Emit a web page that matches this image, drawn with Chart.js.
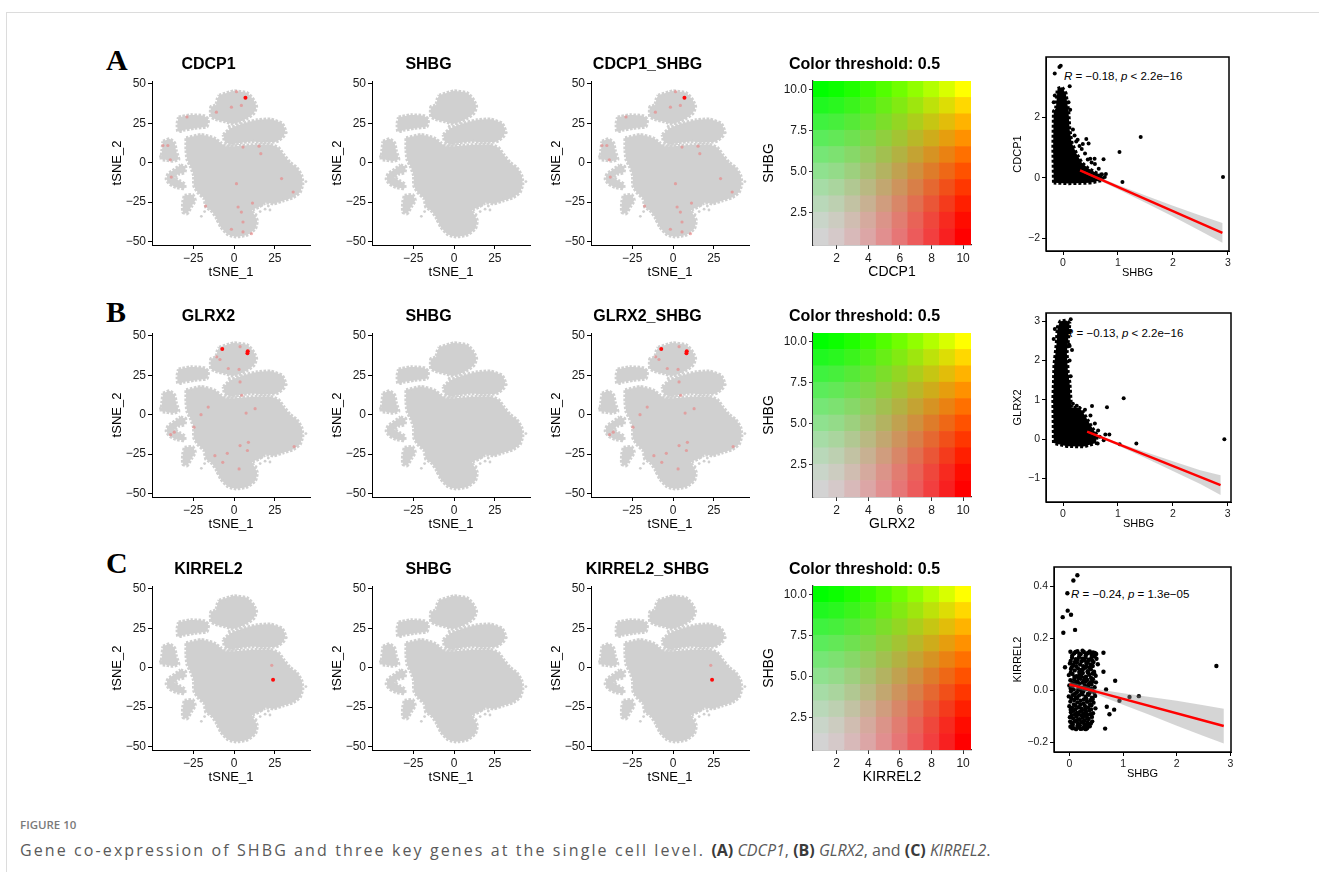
<!DOCTYPE html>
<html>
<head>
<meta charset="utf-8">
<script src="https://cdn.jsdelivr.net/npm/chart.js@4.4.1/dist/chart.umd.min.js"></script>
<style>
  body { margin: 0; background: #fff; width: 1319px; height: 872px; position: relative; overflow: hidden; }
  canvas { position: absolute; }
  .frame { position: absolute; left: 6px; top: 12px; right: -5px; bottom: -5px; border-top: 1px solid #dcdcdc; border-left: 1px solid #dcdcdc; }
  .tag { position: absolute; font: bold 30px "Liberation Serif", serif; line-height: 30px; color: #000; }
  .note { position: absolute; font: 11.5px "Liberation Sans", Arial, sans-serif; line-height: 14px; color: #000; white-space: nowrap; }
  .fig { position: absolute; left: 20px; top: 817px; font: 600 11.5px "Open Sans", sans-serif; line-height: 16px; color: #7a7a7a; }
  .cap { position: absolute; left: 20px; top: 840px; font: 16px "Open Sans", sans-serif; line-height: 20px; color: #5a5a5a; white-space: nowrap; }
  .cap .reg { letter-spacing: 2.1px; }
  .cap b { color: #3a3a3a; }
</style>
</head>
<body>
<div class="frame"></div>
<div class="tag" style="left:106px;top:45px">A</div>
<div class="tag" style="left:106px;top:297px">B</div>
<div class="tag" style="left:106px;top:548px">C</div>
<div class="note" style="left:1064px;top:69px"><i>R</i> = −0.18, <i>p</i> &lt; 2.2e−16</div>
<div class="note" style="left:1065px;top:326px"><i>R</i> = −0.13, <i>p</i> &lt; 2.2e−16</div>
<div class="note" style="left:1071px;top:587px"><i>R</i> = −0.24, <i>p</i> = 1.3e−05</div>
<div class="fig">FIGURE 10</div>
<div class="cap"><span class="reg">Gene co-expression of SHBG and three key genes at the single cell level. </span><b>(A)</b> <i>CDCP1</i>, <b>(B)</b> <i>GLRX2</i>, and <b>(C)</b> <i>KIRREL2</i>.</div>

<script>
// ---- tSNE embedding: outlines of the cell clouds (same cells in every panel)
const clTop = [[-9.1,42.7],[0,45.4],[8.1,44.2],[12.1,39.6],[13.7,35.4],[12.1,31.3],[8.1,28.1],[4,26],[-1,24.6],[-5.1,26],[-10.1,27.1],[-14.1,29.2],[-14.1,35.4],[-11.1,36.5],[-10.1,40.6]];
const clUpLeft = [[-33.9,28.8],[-26.3,30.2],[-18.2,29.6],[-15.8,27.1],[-16.6,22.9],[-24.2,21.9],[-30.3,20.8],[-34.3,19.8],[-34.7,25]];
const clUpRight = [[-6.5,17.7],[-2,21.9],[6.1,25],[14.1,27.1],[22.2,27.5],[29.3,25],[31.3,20.8],[30.3,16.7],[26.3,13.5],[18.2,12.9],[10.1,13.5],[3,12.5],[-2,11.5],[-5.7,13.5]];
const clLeft = [[-43.4,13.5],[-39.4,15],[-36.4,12.5],[-35.4,7.3],[-33.9,2.1],[-37.4,1],[-41.4,1.7],[-44.4,2.1],[-44,8.3]];
const clHook = [[-32.7,-1.5],[-29.7,-2.5],[-30.3,-6.3],[-34.3,-7.3],[-36.4,-9.4],[-33.3,-11.5],[-30.3,-13.5],[-30.3,-16.3],[-35.4,-15.6],[-39.4,-13.5],[-41.4,-10.4],[-40.4,-7.3],[-36.4,-4.2]];
const clLowLeft = [[-30.3,-20.8],[-25.3,-20.4],[-23.8,-24],[-26.3,-28.1],[-28.7,-32.3],[-31.3,-31.3],[-31.3,-25]];
const clMain = [[-29.3,15.6],[-20.2,17.7],[-12.1,15.6],[-8.1,12.5],[-5.1,10.4],[4,10.8],[16.2,11.5],[22.2,11.5],[27.3,9.4],[30.3,5.2],[34.3,0],[38.4,-3.1],[41.4,-8.3],[42,-13.5],[40.4,-18.8],[36.4,-21.9],[30.3,-24],[24.2,-26],[19.2,-25.4],[15.2,-28.1],[11.1,-30.2],[14.1,-36.5],[13.1,-41.7],[8.1,-45.8],[1,-46.9],[-4,-45.4],[-8.1,-40.6],[-11.1,-34.4],[-14.1,-30.2],[-17.2,-28.1],[-18.2,-22.9],[-22.2,-18.8],[-24.6,-14.6],[-24.6,-8.3],[-26.3,-3.1],[-28.7,2.1],[-29.3,8.3]];
const clusters = [clMain, clTop, clUpLeft, clUpRight, clLeft, clHook, clLowLeft];
// loose cells outside the outlines
const strayCells = [[17,-27],[19,-29.5],[21,-27.5],[16,-31],[22,-30],[13.5,-33],[-18,-31],[-20,-34],[-10,-37],[44,-12],[-3,23],[32,19],[-45,4],[-16,26]];

// expressing cells (bright = high, faint = low)
const cdcp1Hi = [[7.0,41.1]];
const cdcp1Lo = [[1.5,45.0],[-1.6,35.2],[4.5,36.3],[-10.8,32.0],[-28.8,29.0],[-43.5,10.9],[-40.5,10.9],[-39.0,1.8],[-38.4,-9.1],[5.5,9.9],[15.3,10.5],[16.4,5.7],[29.1,-10.1],[36.2,-18.6],[2.5,-28.1],[4.5,-31.3],[11.3,-25.6],[-1.6,-42.2],[5.5,-43.9],[10.7,-45.0],[-17.4,-27.5],[5.5,-37.6],[1.5,-13.3]];
const glrx2Hi = [[-7.2,41.6],[8.4,40.3],[8.2,38.9]];
const glrx2Lo = [[3.7,43.1],[-10.6,36.7],[-8.6,35.0],[3.1,28.7],[-3.5,29.3],[3.7,20.8],[4.7,12.3],[-15.8,4.8],[-20.2,0],[-24.5,-7.9],[-36.6,-11.1],[-38.8,-12.7],[7.4,1.0],[12.9,3.8],[8.8,-17.5],[3.7,-19.6],[8.2,-22.7],[-4.1,-24.5],[-11.7,-26.0],[-6.9,-30.2],[3.1,-34.4],[36.8,-20.2]];
const kirrel2Hi = [[23.9,-7.6]];
const kirrel2Lo = [[23.1,1.5]];

const tsneXTicks = [-25, 0, 25];
const tsneYTicks = [-50, -25, 0, 25, 50];

// ---- blend legend
const hmLevels = [1, 2, 3, 4, 5, 6, 7, 8, 9, 10];
const hmXTicks = [2, 4, 6, 8, 10];
const hmYTicks = [2.5, 5, 7.5, 10];

// ---- correlation scatter (SHBG on x)
const cdcp1Dense = [[-0.17,-0.17],[-0.18,1.0],[-0.17,2.2],[-0.13,2.3],[-0.1,2.95],[-0.02,3.0],[0.05,2.8],[0.1,2.2],[0.12,1.6],[0.16,1.15],[0.25,0.78],[0.34,0.5],[0.45,0.32],[0.6,0.16],[0.72,0.08],[0.72,-0.08],[0.5,-0.17],[0.1,-0.19]];
const cdcp1Pts = [[-0.151,3.45],[-0.066,3.67],[-0.042,3.71],[0.121,3.03],[0.266,1.26],[0.423,1.28],[0.465,1.13],[0.495,0.63],[0.574,0.63],[0.737,0.61],[0.707,0.11],[1.027,0.85],[1.081,-0.14],[1.413,1.35],[2.911,0.02],
  [-0.17,2.5],[-0.15,2.72],[0.1,2.5],[0.13,2.25],[0.18,1.6],[0.21,1.4],[0.3,1.05],[0.34,0.95],[0.4,0.8],[0.45,0.6],[0.52,0.5],[0.58,0.45],[0.65,0.3],[0.24,1.2],[0.36,1.12],[0.78,0.12],[0.76,0.02]];
const cdcp1Fit = [[0.31,0.24],[2.9,-1.83]];
const cdcp1BandX = [0.31, 1.0, 1.5, 2.0, 2.5, 2.9];
const cdcp1BandUp = [0.27, -0.24, -0.59, -0.93, -1.25, -1.50];
const cdcp1BandLo = [0.21, -0.38, -0.83, -1.29, -1.77, -2.16];

const glrx2Dense = [[-0.17,-0.1],[-0.18,1.0],[-0.16,1.9],[-0.12,2.4],[-0.1,2.85],[-0.05,3.0],[0.06,3.02],[0.12,2.95],[0.1,2.6],[0.07,2.2],[0.09,1.7],[0.12,1.45],[0.15,0.8],[0.3,0.8],[0.36,0.7],[0.45,0.48],[0.55,0.25],[0.62,0.1],[0.6,-0.1],[0.38,-0.19],[0.07,-0.18]];
const glrx2Pts = [[0.528,0.84],[0.801,0.81],[0.844,0.12],[0.771,0.12],[0.668,0.06],[0.741,-0.03],[0.631,-0.11],[1.032,-0.13],[1.105,1.04],[1.336,-0.11],[2.939,0.0],[0.164,2.27],[0.121,2.37],
  [-0.17,2.55],[-0.15,2.8],[0.14,3.05],[0.13,2.75],[0.11,2.4],[0.12,2.0],[0.14,1.6],[0.18,0.9],[0.25,0.85],[0.4,0.75],[0.5,0.6],[0.58,0.4],[0.64,0.22]];
const glrx2Fit = [[0.44,0.19],[2.87,-1.17]];
const glrx2BandX = [0.44, 1.0, 1.5, 2.0, 2.5, 2.87];
const glrx2BandUp = [0.21, -0.09, -0.33, -0.56, -0.79, -0.92];
const glrx2BandLo = [0.17, -0.16, -0.48, -0.81, -1.14, -1.42];

const kirrel2Pts = [
  [0.149,0.442],[0.075,0.422],[-0.037,0.373],[-0.124,0.281],[-0.031,0.306],[0.031,0.290],[-0.112,0.221],[0.106,0.232],[-0.081,0.088],
  [2.738,0.093],[0.853,0.036],[0.684,0.003],[0.697,-0.064],[0.747,-0.093],[0.834,-0.075],[0.666,-0.148],[0.933,-0.041],[1.12,-0.026],[1.294,-0.023],[0.635,0.071],[0.635,0.144],
  [0.02,0.148],[0.09,0.142],[0.15,0.150],[0.21,0.138],[0.27,0.147],[0.33,0.141],[0.38,0.149],[0.44,0.145],[0.50,0.139],
  [0.05,0.125],[0.12,0.119],[0.18,0.128],[0.24,0.121],[0.30,0.126],[0.36,0.117],[0.41,0.124],[0.47,0.130],
  [0.01,0.103],[0.07,0.097],[0.14,0.106],[0.20,0.099],[0.26,0.092],[0.32,0.104],[0.39,0.098],[0.45,0.108],[0.53,0.100],
  [0.03,0.081],[0.10,0.076],[0.16,0.084],[0.22,0.078],[0.29,0.086],[0.34,0.073],[0.40,0.080],[0.46,0.071],
  [-0.01,0.058],[0.06,0.062],[0.13,0.054],[0.19,0.060],[0.25,0.066],[0.31,0.052],[0.37,0.059],[0.43,0.064],[0.49,0.055],
  [0.02,0.038],[0.09,0.041],[0.15,0.033],[0.21,0.044],[0.27,0.036],[0.33,0.040],[0.39,0.031],[0.44,0.042],
  [0.00,0.018],[0.05,0.012],[0.11,0.021],[0.17,0.015],[0.23,0.009],[0.29,0.019],[0.35,0.013],[0.41,0.022],[0.47,0.011],
  [0.03,-0.004],[0.08,0.003],[0.14,-0.008],[0.20,0.001],[0.26,-0.005],[0.32,0.004],[0.38,-0.009],[0.43,-0.002],
  [-0.01,-0.024],[0.06,-0.019],[0.12,-0.027],[0.18,-0.021],[0.24,-0.016],[0.30,-0.025],[0.36,-0.018],[0.42,-0.029],[0.48,-0.022],
  [0.02,-0.044],[0.09,-0.038],[0.15,-0.047],[0.21,-0.041],[0.27,-0.036],[0.33,-0.045],[0.39,-0.039],[0.45,-0.048],
  [0.00,-0.062],[0.05,-0.068],[0.11,-0.059],[0.17,-0.066],[0.23,-0.071],[0.29,-0.061],[0.35,-0.067],[0.41,-0.058],
  [0.03,-0.085],[0.08,-0.079],[0.14,-0.088],[0.20,-0.082],[0.26,-0.091],[0.31,-0.084],[0.37,-0.078],[0.44,-0.089],
  [0.01,-0.104],[0.07,-0.109],[0.13,-0.101],[0.19,-0.112],[0.25,-0.106],[0.30,-0.099],[0.36,-0.111],[0.42,-0.103],
  [0.04,-0.126],[0.10,-0.121],[0.16,-0.129],[0.22,-0.123],[0.28,-0.131],[0.34,-0.124],[0.40,-0.128],
  [0.02,-0.141],[0.08,-0.146],[0.15,-0.138],[0.21,-0.149],[0.27,-0.143],[0.33,-0.147],[0.38,-0.139],
  [0.055,0.134],[0.115,0.147],[0.185,0.139],[0.245,0.152],[0.305,0.133],[0.355,0.144],[0.415,0.136],[0.475,0.143],
  [0.025,0.112],[0.095,0.108],[0.155,0.117],[0.225,0.110],[0.285,0.114],[0.345,0.109],[0.425,0.113],[0.505,0.121],
  [0.045,0.088],[0.125,0.092],[0.185,0.070],[0.255,0.081],[0.315,0.090],[0.375,0.086],[0.435,0.093],
  [0.025,0.067],[0.095,0.051],[0.165,0.047],[0.225,0.053],[0.285,0.048],[0.345,0.068],[0.405,0.047],[0.465,0.063],
  [0.055,0.028],[0.125,0.031],[0.185,0.026],[0.245,0.029],[0.305,0.033],[0.365,0.024],[0.425,0.032],[0.495,0.030],
  [0.025,0.006],[0.105,-0.014],[0.165,0.004],[0.225,-0.012],[0.285,0.007],[0.345,-0.015],[0.405,0.005],[0.465,-0.010],
  [0.035,-0.032],[0.085,-0.055],[0.145,-0.031],[0.205,-0.056],[0.265,-0.052],[0.315,-0.033],[0.385,-0.054],[0.435,-0.034],
  [0.025,-0.075],[0.115,-0.073],[0.175,-0.094],[0.235,-0.078],[0.295,-0.075],[0.345,-0.095],[0.405,-0.074],[0.485,-0.070],
  [0.045,-0.097],[0.105,-0.093],[0.165,-0.114],[0.225,-0.097],[0.285,-0.117],[0.335,-0.108],[0.395,-0.093],
  [0.015,-0.121],[0.065,-0.133],[0.135,-0.117],[0.195,-0.136],[0.255,-0.122],[0.315,-0.137],[0.365,-0.131],[0.425,-0.120],
  [0.055,-0.147],[0.125,-0.150],[0.185,-0.144],[0.245,-0.148],[0.305,-0.150]
];
const kirrel2Fit = [[0.0,0.022],[2.875,-0.138]];
const kirrel2BandX = [0, 0.5, 1.0, 1.5, 2.0, 2.5, 2.875];
const kirrel2BandUp = [0.032, 0.004, -0.012, -0.026, -0.041, -0.058, -0.072];
const kirrel2BandLo = [0.012, -0.016, -0.056, -0.096, -0.137, -0.176, -0.205];

const FONT = '"Liberation Sans", Arial, sans-serif';
const CLOUD = '#d0d0d0';

const xy = arr => arr.map(p => ({ x: p[0], y: p[1] }));
const closed = arr => xy(arr.concat([arr[0]]));
const minus = v => String(v).replace('-', '\u2212');

function addCanvas(left, top, w, h) {
  const c = document.createElement('canvas');
  c.width = w; c.height = h;
  c.style.left = left + 'px'; c.style.top = top + 'px';
  document.body.appendChild(c);
  return c;
}

function axis(o) {
  const lc = o.lineColor || '#000';
  return {
    type: 'linear', min: o.min, max: o.max, offset: false,
    afterFit: o.horizontal ? s => { s.height = o.size; } : s => { s.width = o.size; },
    afterBuildTicks: s => { s.ticks = o.ticks.map(v => ({ value: v })); },
    border: { display: true, color: lc, width: o.lineWidth || 1 },
    grid: { display: true, drawOnChartArea: false, drawTicks: true, tickLength: 4, tickColor: lc, color: lc, offset: false },
    ticks: { color: '#1a1a1a', padding: 2, autoSkip: false, maxRotation: 0,
      font: { size: o.tickSize, family: FONT }, callback: o.fmt || (v => minus(v)) },
    title: { display: true, text: o.title, color: '#000', font: { size: o.titleSize, family: FONT },
      padding: o.horizontal ? { top: 0, bottom: o.titlePad } : { top: o.titlePad, bottom: 0 } }
  };
}

const noChrome = { legend: { display: false }, tooltip: { enabled: false }, filler: { drawTime: 'beforeDatasetDraw' } };

function tsnePanel(col, row, title, hi, lo) {
  const L = Math.round(152 + 219.5 * col), T = Math.round(80.5 + 252.5 * row);
  const cv = addCanvas(L - 45, T - 32, 45 + 158 + 45, 32 + 164 + 40);
  const datasets = clusters.map(shape => ({
    data: closed(shape), showLine: true, fill: 'shape', pointRadius: 0, tension: 0.15,
    backgroundColor: CLOUD, borderColor: CLOUD, borderWidth: 3.5, borderDash: [2.5, 1.5], order: 4
  }));
  datasets.push({ data: xy(strayCells), pointRadius: 1.4, pointBorderWidth: 0, backgroundColor: CLOUD, order: 3 });
  datasets.push({ data: xy(lo), pointRadius: 1.6, pointBorderWidth: 0, backgroundColor: 'rgba(236,120,120,0.55)', order: 2 });
  datasets.push({ data: xy(hi), pointRadius: 2, pointBorderWidth: 0, backgroundColor: '#ff0a0a', order: 1 });
  new Chart(cv, {
    type: 'scatter',
    data: { datasets },
    options: {
      responsive: false, animation: false, events: [],
      layout: { padding: { left: 0, right: 45, top: 0, bottom: 0 } },
      plugins: Object.assign({}, noChrome, {
        title: { display: true, text: title, color: '#000', font: { size: 16, weight: 'bold', family: FONT }, padding: { top: 6, bottom: 6.8 } }
      }),
      scales: {
        x: axis({ horizontal: true, min: -50.2, max: 46.5, size: 40, ticks: tsneXTicks, tickSize: 12, title: 'tSNE_1', titleSize: 13, titlePad: 5 }),
        y: axis({ min: -52.2, max: 51.8, size: 45, ticks: tsneYTicks, tickSize: 12, title: 'tSNE_2', titleSize: 13, titlePad: 2.2 })
      }
    }
  });
}

function blendColor(cx, cy) {
  const tx = Math.pow((cx - 1) / 9, 1.4), ty = Math.pow((cy - 1) / 9, 1.4);
  const grey = 211;
  const r = grey * (1 - tx) * (1 - ty) + 255 * tx;
  const g = grey * (1 - tx) * (1 - ty) + 255 * ty;
  const b = grey * (1 - tx) * (1 - ty);
  return `rgb(${Math.round(Math.min(255, r))},${Math.round(Math.min(255, g))},${Math.round(b)})`;
}

function blendPanel(row, gene) {
  const L = 813, T = Math.round(80.5 + 252.5 * row);
  const cv = addCanvas(L - 55, T - 32, 55 + 158 + 55, 32 + 164 + 40);
  const datasets = hmLevels.map(lv => ({
    type: 'bar', grouped: false, categoryPercentage: 1, barPercentage: 1, borderWidth: 0,
    data: hmLevels.map(c => ({ x: c, y: [lv - 0.5, lv + 0.5] })),
    backgroundColor: ctx => blendColor(ctx.raw ? ctx.raw.x : 1, lv)
  }));
  new Chart(cv, {
    type: 'bar',
    data: { datasets },
    options: {
      responsive: false, animation: false, events: [],
      layout: { padding: { left: 0, right: 55, top: 0, bottom: 0 } },
      plugins: Object.assign({}, noChrome, {
        title: { display: true, text: 'Color threshold: 0.5', color: '#000', font: { size: 16, weight: 'bold', family: FONT }, padding: { top: 6, bottom: 6.8 } }
      }),
      scales: {
        x: axis({ horizontal: true, min: 0.5, max: 10.5, size: 40, ticks: hmXTicks, tickSize: 12, title: gene, titleSize: 14, titlePad: 4.2, lineColor: '#333', lineWidth: 1.3 }),
        y: axis({ min: 0.5, max: 10.5, size: 55, ticks: hmYTicks, tickSize: 12, title: 'SHBG', titleSize: 14, titlePad: 2.6, lineColor: '#333', lineWidth: 1.3, fmt: v => v.toFixed(1) })
      }
    }
  });
}

const frame = {
  id: 'frame',
  afterDatasetsDraw(chart) {
    const { ctx, chartArea: a } = chart;
    ctx.save();
    ctx.strokeStyle = '#000'; ctx.lineWidth = 1.5;
    ctx.strokeRect(a.left, a.top, a.right - a.left, a.bottom - a.top);
    ctx.restore();
  }
};

function corrPanel(box, gene, yW, xr, yr, yTicks, fmt, dense, pts, fit, bx, bu, bl, ptR) {
  const [L, T, R, B] = box;
  const cv = addCanvas(L - yW, T - 10, yW + (R - L) + 12, 10 + (B - T) + 32);
  const band = bx.map((x, i) => [x, bu[i]]).concat(bx.map((x, i) => [x, bl[i]]).reverse());
  const datasets = [
    { data: xy(fit), showLine: true, pointRadius: 0, borderColor: '#ff0000', borderWidth: 2.4, order: 0 },
    { data: closed(band), showLine: true, fill: 'shape', pointRadius: 0, borderWidth: 0, backgroundColor: 'rgba(150,150,150,0.4)', borderColor: 'rgba(0,0,0,0)', order: 1 },
    { data: xy(pts), pointRadius: ptR, pointBorderWidth: 0, backgroundColor: '#000', order: 2 }
  ];
  if (dense) datasets.push({ data: closed(dense), showLine: true, fill: 'shape', pointRadius: 0, borderWidth: 3.5, borderDash: [3, 2], backgroundColor: '#000', borderColor: '#000', order: 3 });
  new Chart(cv, {
    type: 'scatter',
    data: { datasets },
    options: {
      responsive: false, animation: false, events: [],
      layout: { padding: { left: 0, right: 12, top: 10, bottom: 0 } },
      plugins: noChrome,
      scales: {
        x: axis({ horizontal: true, min: xr[0], max: xr[1], size: 32, ticks: [0, 1, 2, 3], tickSize: 10.5, title: 'SHBG', titleSize: 11, titlePad: 3.4 }),
        y: axis({ min: yr[0], max: yr[1], size: yW, ticks: yTicks, tickSize: 10.5, title: gene, titleSize: 11, titlePad: 5.4, fmt })
      }
    },
    plugins: [frame]
  });
}

// row A
tsnePanel(0, 0, 'CDCP1', cdcp1Hi, cdcp1Lo);
tsnePanel(1, 0, 'SHBG', [], []);
tsnePanel(2, 0, 'CDCP1_SHBG', cdcp1Hi, cdcp1Lo);
blendPanel(0, 'CDCP1');
corrPanel([1046, 57, 1229, 251], 'CDCP1', 40, [-0.31, 3.02], [-2.43, 4.0], [-2, 0, 2], null,
  cdcp1Dense, cdcp1Pts, cdcp1Fit, cdcp1BandX, cdcp1BandUp, cdcp1BandLo, 2);
// row B
tsnePanel(0, 1, 'GLRX2', glrx2Hi, glrx2Lo);
tsnePanel(1, 1, 'SHBG', [], []);
tsnePanel(2, 1, 'GLRX2_SHBG', glrx2Hi, glrx2Lo);
blendPanel(1, 'GLRX2');
corrPanel([1046, 313, 1231, 502], 'GLRX2', 40, [-0.31, 3.06], [-1.6, 3.21], [-1, 0, 1, 2, 3], null,
  glrx2Dense, glrx2Pts, glrx2Fit, glrx2BandX, glrx2BandUp, glrx2BandLo, 2);
// row C
tsnePanel(0, 2, 'KIRREL2', kirrel2Hi, kirrel2Lo);
tsnePanel(1, 2, 'SHBG', [], []);
tsnePanel(2, 2, 'KIRREL2_SHBG', kirrel2Hi, kirrel2Lo);
blendPanel(2, 'KIRREL2');
corrPanel([1054, 567, 1231, 752], 'KIRREL2', 48, [-0.286, 3.01], [-0.238, 0.474], [-0.2, 0, 0.2, 0.4], v => minus(v.toFixed(1)),
  null, kirrel2Pts, kirrel2Fit, kirrel2BandX, kirrel2BandUp, kirrel2BandLo, 2.2);
</script>
</body>
</html>
